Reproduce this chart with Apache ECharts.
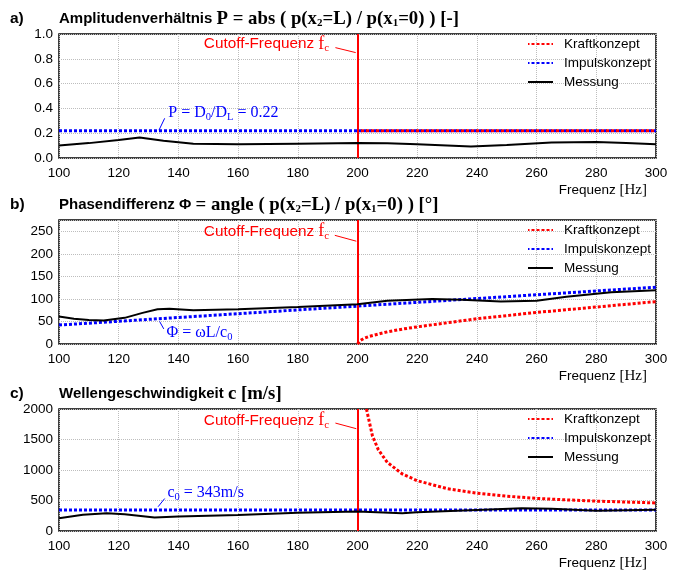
<!DOCTYPE html>
<html lang="de">
<head>
  <meta charset="utf-8">
</head>
<body style="margin: 0; background: #fff">
  <div id="container" style="width: 680px; height: 571px"></div>
  <script src="https://cdn.jsdelivr.net/npm/echarts@6/dist/echarts.min.js"></script>
  <script>
    // --- data ---
    var cutoffFreq = 200;

    // a) Amplitudenverhaeltnis
    var ampMessFreq = [100, 110, 120, 127, 135, 145, 160, 180, 200, 210, 220, 230, 238, 250, 265, 280, 290, 300];
    var ampMess = [0.10, 0.12, 0.145, 0.165, 0.14, 0.115, 0.11, 0.115, 0.12, 0.118, 0.11, 0.10, 0.092, 0.105, 0.125, 0.13, 0.12, 0.11];
    var ampImpFreq = [100, 300];
    var ampImp = [0.22, 0.22];
    var ampKraftFreq = [200, 300];
    var ampKraft = [0.22, 0.22];

    // b) Phasendifferenz
    var phaseMessFreq = [100, 105, 110, 115, 122, 128, 133, 137, 145, 160, 180, 200, 210, 225, 235, 248, 260, 270, 285, 300];
    var phaseMess = [61, 56, 53, 52, 58, 69, 77, 78, 75, 77, 82, 88, 96, 100, 98, 94, 96, 105, 115, 119];
    var phaseImpFreq = [100, 300];
    var phaseImp = [42, 126];
    var phaseKraftFreq = [200, 201, 202, 204, 207, 210, 215, 220, 230, 240, 250, 260, 270, 280, 290, 300];
    var phaseKraft = [0, 8, 12, 17, 22, 27, 33, 38, 47, 56, 63, 70, 76, 82, 88, 94];

    // c) Wellengeschwindigkeit
    var speedMessFreq = [100, 108, 116, 122, 132, 140, 160, 180, 200, 215, 220, 240, 255, 265, 280, 300];
    var speedMess = [210, 265, 290, 275, 222, 238, 262, 300, 318, 292, 306, 343, 372, 366, 334, 350];
    var speedImpFreq = [100, 300];
    var speedImp = [343, 343];
    var speedKraftFreq = [203, 205, 207, 210, 215, 220, 230, 240, 250, 260, 270, 280, 290, 300];
    var speedKraft = [2000, 1560, 1330, 1125, 935, 825, 695, 620, 570, 535, 510, 490, 475, 460];

    var seriesNames = ['Kraftkonzept', 'Impulskonzept', 'Messung'];

    var SANS = "'Liberation Sans Narrow','Arial Narrow','Liberation Sans',sans-serif";
    var SERIF = "'Liberation Serif','Times New Roman',serif";
    var RED = '#ff0000';
    var BLUE = '#0000ff';

    var gridTops = [34, 220, 409];
    var yMax = [1, 275, 2000];
    var yStep = [0.2, 50, 500];

    function zip(xs, ys) {
      return xs.map(function (x, i) { return [x, ys[i]]; });
    }

    var titleRich = {
      b: { fontFamily: SANS, fontWeight: 'bold', fontSize: 15, color: '#000', lineHeight: 20 },
      s: { fontFamily: SERIF, fontWeight: 'bold', fontSize: 18.8, color: '#000', lineHeight: 20 },
      sub: { fontFamily: SERIF, fontWeight: 'bold', fontSize: 11, color: '#000', lineHeight: 12, verticalAlign: 'bottom' }
    };
    var titles = [
      '{b|Amplitudenverhältnis }{s|P = abs ( p(x}{sub|2}{s|=L) / p(x}{sub|1}{s|=0) ) [-]}',
      '{b|Phasendifferenz Φ }{s|= angle ( p(x}{sub|2}{s|=L) / p(x}{sub|1}{s|=0) ) [°]}',
      '{b|Wellengeschwindigkeit }{s|c [m/s]}'
    ];
    var letters = ['a)', 'b)', 'c)'];

    var title = [];
    gridTops.forEach(function (t, i) {
      title.push({
        text: letters[i], left: 10, top: t - 25, padding: 0,
        textStyle: { fontFamily: SANS, fontWeight: 'bold', fontSize: 15.5, color: '#000', lineHeight: 20 }
      });
      title.push({
        text: titles[i], left: 59, top: t - 25, padding: 0,
        textStyle: { rich: titleRich, lineHeight: 20 }
      });
    });

    var grid = gridTops.map(function (t) {
      return { left: 59, right: 24, top: t, height: 124, show: true, borderColor: '#000', borderWidth: 1.5, backgroundColor: '#fff' };
    });

    var xAxis = gridTops.map(function (t, i) {
      return {
        type: 'value', gridIndex: i, min: 100, max: 300, interval: 20,
        axisLine: { show: false }, axisTick: { show: false },
        axisLabel: { fontFamily: SANS, fontSize: 13.5, color: '#000', margin: 8 },
        splitLine: { lineStyle: { type: 'dotted', color: '#bdbdbd', width: 1 } },
        name: '{s|Frequenz }{h|[Hz]}', nameLocation: 'end', nameGap: -9,
        nameTextStyle: {
          align: 'right', verticalAlign: 'top', padding: [25, 0, 0, 0],
          rich: {
            s: { fontFamily: SANS, fontSize: 13.5, color: '#000' },
            h: { fontFamily: SERIF, fontSize: 15, color: '#000' }
          }
        }
      };
    });

    var yAxis = gridTops.map(function (t, i) {
      return {
        type: 'value', gridIndex: i, min: 0, max: yMax[i], interval: yStep[i],
        axisLine: { show: false }, axisTick: { show: false },
        axisLabel: {
          fontFamily: SANS, fontSize: 13.5, color: '#000', margin: 6, showMaxLabel: i !== 1,
          formatter: function (v) { return i === 0 ? v.toFixed(1) : String(v); }
        },
        splitLine: { lineStyle: { type: 'dotted', color: '#bdbdbd', width: 1 } }
      };
    });

    var legend = gridTops.map(function (t) {
      return {
        data: seriesNames, orient: 'vertical', left: 527, top: t + 3,
        itemWidth: 25, itemHeight: 14, itemGap: 5, padding: 0,
        itemStyle: { opacity: 0 },
        textStyle: { fontFamily: SANS, fontSize: 13.5, color: '#000', lineHeight: 14, padding: [0, 0, 0, 6] }
      };
    });

    // annotation positions (in data units of each panel)
    var cutoffText = [[190.7, 0.917], [190.7, 248.5], [190.7, 1806]];
    var cutoffLead = [
      [[192.6, 0.89], [199.4, 0.85]],
      [[192.4, 241], [199.6, 228]],
      [[192.6, 1769], [199.6, 1677]]
    ];
    var blueText = [[136.8, 0.36], [136.2, 24.7], [136.5, 624]];
    var blueLead = [
      [[133.5, 0.225], [135.4, 0.32]],
      [[133.7, 50], [135.1, 33.5]],
      [[133.2, 398], [135.4, 532]]
    ];
    var blueLabels = [
      '{t|P = D}{sub|0}{t|/D}{sub|L}{t| = 0.22}',
      '{t|Φ = ωL/c}{sub|0}',
      '{t|c}{sub|0}{t| = 343m/s}'
    ];

    var blueRich = {
      t: { fontFamily: SERIF, fontSize: 16, color: BLUE, lineHeight: 20 },
      sub: { fontFamily: SERIF, fontSize: 10.5, color: BLUE, lineHeight: 12, verticalAlign: 'bottom' }
    };
    var redRich = {
      a: { fontFamily: SANS, fontSize: 15.3, color: RED, lineHeight: 20 },
      f: { fontFamily: SERIF, fontSize: 18, color: RED, lineHeight: 20 },
      sub: { fontFamily: SERIF, fontSize: 11, color: RED, lineHeight: 12, verticalAlign: 'bottom' }
    };

    var panels = [
      { kraft: zip(ampKraftFreq, ampKraft), imp: zip(ampImpFreq, ampImp), mess: zip(ampMessFreq, ampMess) },
      { kraft: zip(phaseKraftFreq, phaseKraft), imp: zip(phaseImpFreq, phaseImp), mess: zip(phaseMessFreq, phaseMess) },
      { kraft: zip(speedKraftFreq, speedKraft), imp: zip(speedImpFreq, speedImp), mess: zip(speedMessFreq, speedMess) }
    ];

    function markPt(coord, text, rich, align) {
      return {
        symbol: 'circle', symbolSize: 1, silent: true,
        itemStyle: { color: 'rgba(0,0,0,0)' },
        label: { show: true, position: [0, 0], align: align, verticalAlign: 'middle', formatter: text, rich: rich },
        data: [{ coord: coord }]
      };
    }

    var series = [];
    panels.forEach(function (p, i) {
      series.push({
        name: 'Impulskonzept', type: 'line', xAxisIndex: i, yAxisIndex: i,
        data: p.imp, symbol: 'none', z: 3,
        lineStyle: { color: BLUE, width: 3, type: [3, 2] },
        itemStyle: { color: BLUE },
        markLine: {
          symbol: ['none', 'none'], silent: true, label: { show: false },
          lineStyle: { color: BLUE, width: 1, type: 'solid' },
          data: [[{ coord: blueLead[i][0] }, { coord: blueLead[i][1] }]]
        },
        markPoint: markPt(blueText[i], blueLabels[i], blueRich, 'left')
      });
      series.push({
        name: 'Kraftkonzept', type: 'line', xAxisIndex: i, yAxisIndex: i,
        data: p.kraft, symbol: 'none', z: 4,
        lineStyle: { color: RED, width: 3, type: [3, 2], dashOffset: i === 0 ? 1.5 : 0 },
        itemStyle: { color: RED }
      });
      series.push({
        name: 'Messung', type: 'line', xAxisIndex: i, yAxisIndex: i,
        data: p.mess, symbol: 'none', z: 5,
        lineStyle: { color: '#000', width: 2 },
        itemStyle: { color: '#000' },
        markLine: {
          symbol: ['none', 'none'], silent: true, label: { show: false },
          data: [
            { xAxis: cutoffFreq, lineStyle: { color: RED, width: 2, type: 'solid' } },
            [{ coord: cutoffLead[i][0], lineStyle: { color: RED, width: 1, type: 'solid' } }, { coord: cutoffLead[i][1] }]
          ]
        },
        markPoint: markPt(cutoffText[i], '{a|Cutoff-Frequenz }{f|f}{sub|c}', redRich, 'right')
      });
    });

    var chart = echarts.init(document.getElementById('container'), null, { renderer: 'canvas' });
    chart.setOption({
      animation: false,
      backgroundColor: '#fff',
      title: title,
      grid: grid,
      xAxis: xAxis,
      yAxis: yAxis,
      legend: legend,
      series: series
    });
  </script>
</body>
</html>
